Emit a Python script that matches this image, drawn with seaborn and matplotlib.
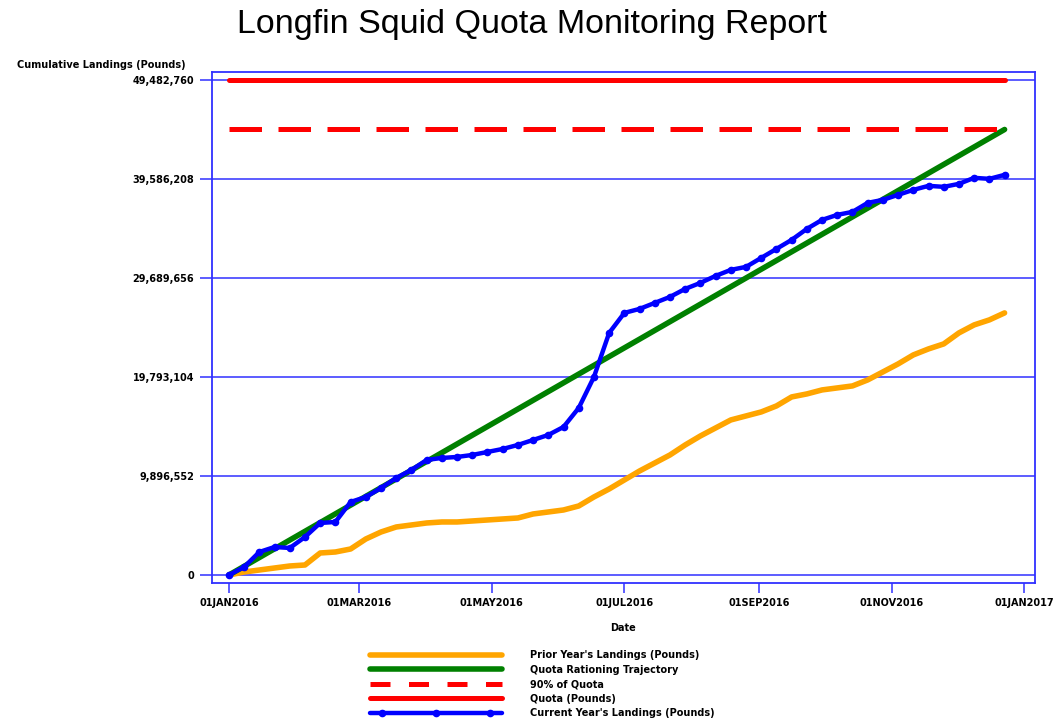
import numpy as np
import pandas as pd
import matplotlib
matplotlib.use("Agg")
import matplotlib.pyplot as plt
import matplotlib.dates as mdates
from matplotlib.ticker import FixedLocator, FuncFormatter
from matplotlib.lines import Line2D
from matplotlib.legend_handler import HandlerLine2D
import seaborn as sns

# ---------------- data ----------------
title = "Longfin Squid Quota Monitoring Report"
quota = 49482760
quota_90 = 44534484
n_weeks = 52
week_dates = pd.date_range("2016-01-01", periods=n_weeks, freq="7D")

# current year's cumulative landings (millions of pounds), weekly
current_m = [0.0, 0.8, 2.3, 2.8, 2.7, 3.8, 5.2, 5.3, 7.3, 7.8,
             8.7, 9.7, 10.5, 11.5, 11.7, 11.8, 12.0, 12.3, 12.6, 13.0,
             13.5, 14.0, 14.8, 16.7, 19.8, 24.2, 26.2, 26.6, 27.2, 27.8,
             28.6, 29.2, 29.9, 30.5, 30.8, 31.7, 32.6, 33.5, 34.6, 35.5,
             36.0, 36.3, 37.2, 37.5, 38.0, 38.5, 38.9, 38.8, 39.1, 39.7,
             39.6, 40.0]
# prior year's cumulative landings (millions of pounds), weekly
prior_m = [0.0, 0.3, 0.5, 0.7, 0.9, 1.0, 2.2, 2.3, 2.6, 3.6,
           4.3, 4.8, 5.0, 5.2, 5.3, 5.3, 5.4, 5.5, 5.6, 5.7,
           6.1, 6.3, 6.5, 6.9, 7.8, 8.6, 9.5, 10.4, 11.2, 12.0,
           13.0, 13.9, 14.7, 15.5, 15.9, 16.3, 16.9, 17.8, 18.1, 18.5,
           18.7, 18.9, 19.5, 20.3, 21.1, 22.0, 22.6, 23.1, 24.2, 25.0,
           25.5, 26.2]
y_ticks = [0, 9896552, 19793104, 29689656, 39586208, 49482760]
x_ticks = ["2016-01-01", "2016-03-01", "2016-05-01", "2016-07-01",
           "2016-09-01", "2016-11-01", "2017-01-01"]

labels = ["Prior Year's Landings (Pounds)", "Quota Rationing Trajectory",
          "90% of Quota", "Quota (Pounds)", "Current Year's Landings (Pounds)"]
colors = ["#FFA500", "#008000", "#FF0000", "#FF0000", "#0000FF"]

# ---------------- frames ----------------
cur = pd.DataFrame({"date": week_dates, "value": np.array(current_m) * 1e6})
pri = pd.DataFrame({"date": week_dates, "value": np.array(prior_m) * 1e6})
ends = [week_dates[0], week_dates[-1]]
traj = pd.DataFrame({"date": ends, "value": [0, quota_90]})
q90 = pd.DataFrame({"date": ends, "value": [quota_90, quota_90]})
q100 = pd.DataFrame({"date": ends, "value": [quota, quota]})

# ---------------- plot ----------------
sns.set_theme(style="white")
plt.rcParams["font.family"] = ["DejaVu Sans"]
plt.rcParams["text.color"] = "black"
plt.rcParams["xtick.color"] = "black"
plt.rcParams["ytick.color"] = "black"

fig = plt.figure(figsize=(10.58, 7.21), dpi=100)
ax = fig.add_axes([212 / 1058, 1 - 583 / 721, (1035 - 212) / 1058, (583 - 72) / 721])

grid_c = "#3030FF"
for yt in y_ticks:
    ax.axhline(yt, color=grid_c, lw=1.1, zorder=1)

sns.lineplot(data=pri, x="date", y="value", ax=ax, color=colors[0], lw=4.0, zorder=3)
sns.lineplot(data=traj, x="date", y="value", ax=ax, color=colors[1], lw=4.0, zorder=3)
sns.lineplot(data=q90, x="date", y="value", ax=ax, color=colors[2], lw=3.6,
             zorder=3).lines[-1].set_dashes([6.5, 3.3])
sns.lineplot(data=q100, x="date", y="value", ax=ax, color=colors[3], lw=3.6, zorder=3)
sns.lineplot(data=cur, x="date", y="value", ax=ax, color=colors[4], lw=3.2,
             marker="o", markersize=5.5, markeredgewidth=0, zorder=4)

t0 = pd.Timestamp("2016-01-01")
ax.set_xlim(mdates.date2num(t0 - pd.Timedelta(days=7.8)),
            mdates.date2num(t0 + pd.Timedelta(days=371)))
ax.set_ylim(-0.8e6, 50.28e6)

ax.xaxis.set_major_locator(FixedLocator([mdates.date2num(pd.Timestamp(d)) for d in x_ticks]))
ax.xaxis.set_major_formatter(FuncFormatter(
    lambda v, p: mdates.num2date(v).strftime("%d%b%Y").upper()))
ax.yaxis.set_major_locator(FixedLocator(y_ticks))
ax.yaxis.set_major_formatter(FuncFormatter(lambda v, p: f"{int(round(v)):,}"))

for s in ax.spines.values():
    s.set_color(grid_c)
    s.set_linewidth(1.3)
ax.tick_params(axis="y", direction="out", length=9, width=1.1, color=grid_c,
               labelsize=7, pad=4, left=True, labelcolor="black")
ax.tick_params(axis="x", direction="out", length=7, width=1.1, color=grid_c,
               labelsize=7, pad=4, bottom=True, labelcolor="black")
for lab in ax.get_xticklabels() + ax.get_yticklabels():
    lab.set_fontweight("bold")
ax.set_xlabel("")
ax.set_ylabel("")

fig.text(623 / 1058, 1 - 628 / 721, "Date", ha="center", va="center",
         fontsize=7, fontweight="bold", color="black")
fig.text(186 / 1058, 1 - 65 / 721, "Cumulative Landings (Pounds)", ha="right",
         va="center", fontsize=7, fontweight="bold", color="black")
fig.text(532 / 1058, 1 - 24 / 721, title, ha="center", va="center",
         fontsize=24.5, color="black", family=["Liberation Sans", "DejaVu Sans"])


class InsetMarkerHandler(HandlerLine2D):
    def create_artists(self, legend, orig_handle, xdescent, ydescent, width,
                       height, fontsize, trans):
        base, _ = self.get_xdata(legend, xdescent, ydescent, width, height, fontsize)
        x0, x1 = base[0], base[-1]
        w = x1 - x0
        xdata = np.array([x0, x0 + 0.09 * w, x0 + 0.5 * w, x1 - 0.09 * w, x1])
        ydata = np.full_like(xdata, (height - ydescent) / 2)
        legline = Line2D(xdata, ydata)
        self.update_prop(legline, orig_handle, legend)
        legline.set_markevery([1, 2, 3])
        legline.set_transform(trans)
        return [legline]


handles = [
    Line2D([], [], color=colors[0], lw=4),
    Line2D([], [], color=colors[1], lw=4),
    Line2D([], [], color=colors[2], lw=3.6, dashes=[4, 3.7]),
    Line2D([], [], color=colors[3], lw=3.6),
    Line2D([], [], color=colors[4], lw=3.2, marker="o", markersize=5.5, markeredgewidth=0),
]
leg = fig.legend(handles, labels, loc="upper left",
                 bbox_to_anchor=(367 / 1058, 1 - 650 / 721),
                 frameon=False, fontsize=7, handlelength=14.2, handletextpad=2.6,
                 labelspacing=0.47, numpoints=3, borderpad=0, borderaxespad=0,
                 handler_map={handles[4]: InsetMarkerHandler(numpoints=3)})
for t in leg.get_texts():
    t.set_fontweight("bold")
    t.set_color("black")

fig.savefig("out.png", dpi=100)
